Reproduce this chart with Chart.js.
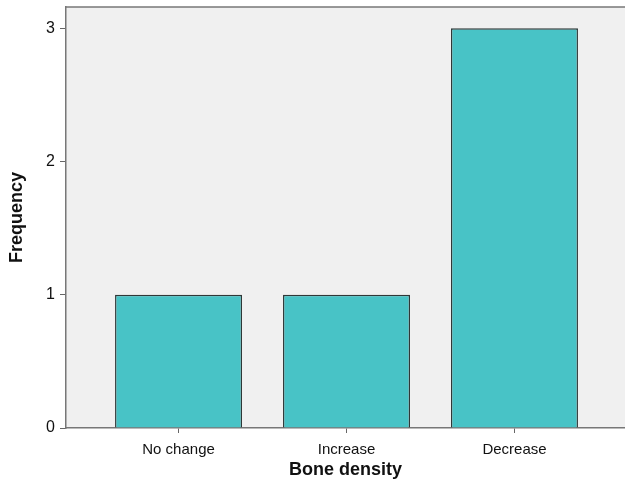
<!DOCTYPE html>
<html lang="en">
<head>
    <meta charset="UTF-8">
    <title>Bone density</title>
    <style>
        html, body { margin: 0; padding: 0; background: #fff; }
        #wrap { width: 625px; height: 491px; }
    </style>
</head>
<body>
    <div id="wrap"><canvas id="myChart"></canvas></div>

    <script src="https://cdn.jsdelivr.net/npm/chart.js"></script>
    <script>
    const categories = ['No change', 'Increase', 'Decrease'];
    const frequency = [1, 1, 3];
    const yTicks = [0, 1, 2, 3];

    const ctx = document.getElementById('myChart');
    const FONT = "'Liberation Sans', Arial, sans-serif";

    // grey plot background + top border
    const plotBg = {
        id: 'plotBg',
        beforeDraw(chart) {
            const a = chart.chartArea, c = chart.ctx;
            c.save();
            c.fillStyle = '#f0f0f0';
            c.fillRect(a.left, a.top, a.right - a.left, a.bottom - a.top);
            c.strokeStyle = '#777';
            c.lineWidth = 1.5;
            c.beginPath();
            c.moveTo(a.left, a.top);
            c.lineTo(a.right, a.top);
            c.stroke();
            c.restore();
        }
    };

    new Chart(ctx, {
        type: 'bar',
        data: {
            datasets: [{
                data: categories.map((c, i) => ({ x: i, y: frequency[i] })),
                backgroundColor: '#48c3c6',
                borderColor: '#2f3838',
                borderWidth: 1.4,
                barPercentage: 0.756,
                categoryPercentage: 1
            }]
        },
        options: {
            responsive: true,
            maintainAspectRatio: false,
            animation: false,
            layout: { padding: { top: 7, right: 0, left: 0, bottom: 0 } },
            plugins: { legend: { display: false }, tooltip: { enabled: false } },
            scales: {
                x: {
                    type: 'linear',
                    offset: false,
                    min: -0.67,
                    max: 2.658,
                    afterBuildTicks: s => { s.ticks = categories.map((c, i) => ({ value: i })); },
                    afterFit: s => { s.height = 63; s.paddingLeft = 0; s.paddingRight = 0; },
                    grid: { offset: false, drawOnChartArea: false, drawTicks: true, tickLength: 5, color: '#666' },
                    border: { display: true, color: '#777', width: 1.5 },
                    ticks: {
                        callback: v => categories[v],
                        color: '#111',
                        font: { family: FONT, size: 15 },
                        padding: 8,
                        maxRotation: 0
                    },
                    title: {
                        display: true,
                        text: 'Bone density',
                        color: '#111',
                        font: { family: FONT, size: 18, weight: 'bold' },
                        padding: { top: 2, bottom: 10 }
                    }
                },
                y: {
                    min: 0,
                    max: 3.16,
                    afterBuildTicks: s => { s.ticks = yTicks.map(v => ({ value: v })); },
                    afterFit: s => { s.width = 66; s.paddingTop = 0; s.paddingBottom = 0; },
                    grid: { drawOnChartArea: false, drawTicks: true, tickLength: 6, color: '#666' },
                    border: { display: true, color: '#777', width: 1.5 },
                    ticks: {
                        color: '#111',
                        font: { family: FONT, size: 16 },
                        padding: 5
                    },
                    title: {
                        display: true,
                        text: 'Frequency',
                        color: '#111',
                        font: { family: FONT, size: 18, weight: 'bold' },
                        padding: { top: 6, bottom: 0 }
                    }
                }
            }
        },
        plugins: [plotBg]
    });
    </script>
</body>
</html>
